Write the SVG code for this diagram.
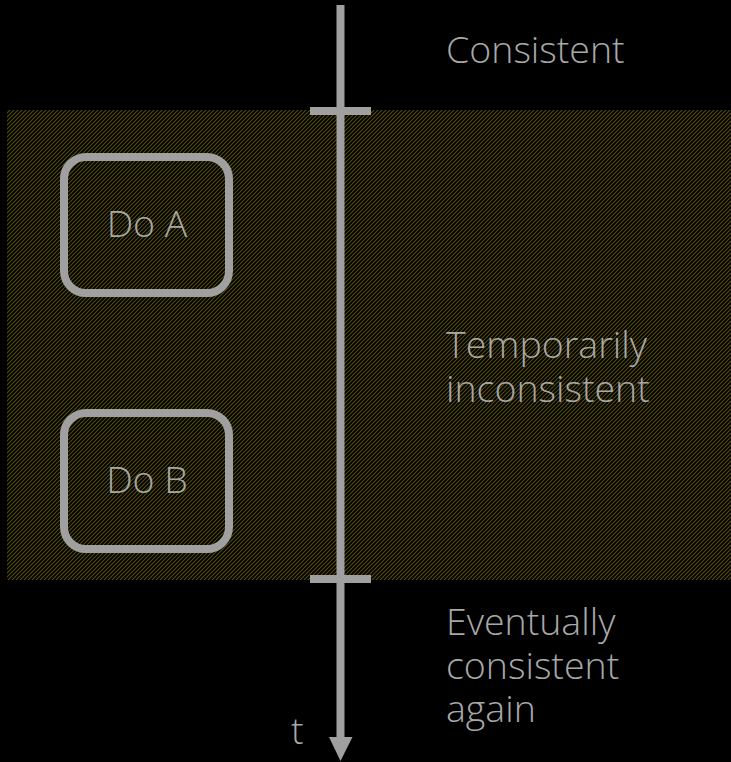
<svg xmlns="http://www.w3.org/2000/svg" width="731" height="762" viewBox="0 0 731 762">
  <style>
    .lbl { font-family: "Open Sans", "Noto Sans", "Liberation Sans", sans-serif; font-weight: 300; font-size: 37.5px; fill: #a8a8a8; }
    .mid { text-anchor: middle; }
    .box { fill: none; stroke: #a0a0a0; stroke-width: 8; }
    .bar { fill: #a0a0a0; }
  </style>
  <defs>
    <!-- thin diagonal hatch, rising to the right -->
    <pattern id="hatch" patternUnits="userSpaceOnUse" width="4" height="4">
      <path d="M-1,1 L1,-1 M0,4 L4,0 M3,5 L5,3" stroke="#544c10" stroke-width="1.1"/>
    </pattern>
  </defs>

  <rect width="731" height="762" fill="#000000"/>

  <!-- hatched interval -->
  <rect id="inconsistent-zone" x="7" y="110" width="724" height="470" fill="url(#hatch)"/>

  <!-- time axis -->
  <g id="connectors">
    <rect class="bar" x="336.5" y="5" width="8" height="733"/>
    <polygon class="bar" points="329,737 352.5,737 340.5,761"/>
    <rect class="bar" x="310" y="107" width="61" height="8"/>
    <rect class="bar" x="310" y="575" width="61" height="8"/>
  </g>

  <g id="do-a">
    <rect class="box" x="64" y="157" width="165" height="136" rx="22"/>
    <text class="lbl mid" x="147" y="237">Do A</text>
  </g>

  <g id="do-b">
    <rect class="box" x="64" y="413" width="165" height="136" rx="22"/>
    <text class="lbl mid" x="147" y="493">Do B</text>
  </g>

  <g id="state-consistent">
    <text class="lbl" x="446" y="63">Consistent</text>
  </g>

  <g id="state-temporary">
    <text class="lbl" x="446" y="358">Temporarily<tspan x="446" dy="44">inconsistent</tspan></text>
  </g>

  <g id="state-eventual">
    <text class="lbl" x="446" y="635">Eventually<tspan x="446" dy="44">consistent</tspan><tspan x="446" dy="43">again</tspan></text>
  </g>

  <g id="axis-label">
    <text class="lbl" x="291" y="744">t</text>
  </g>
</svg>
